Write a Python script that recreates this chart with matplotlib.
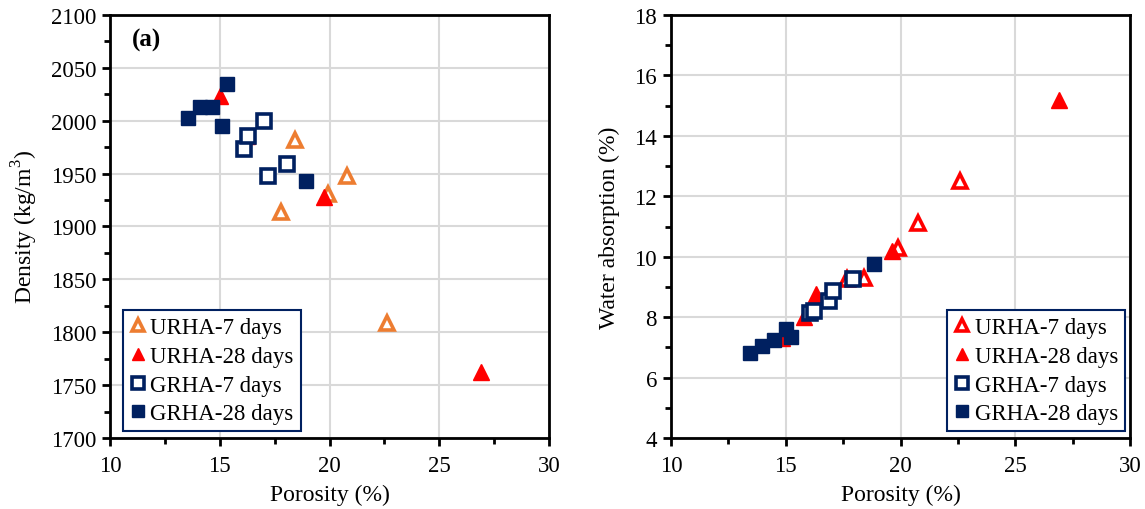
import matplotlib
matplotlib.use("Agg")
import matplotlib.pyplot as plt
from matplotlib.ticker import MultipleLocator

plt.rcParams['font.family'] = ['Liberation Serif', 'DejaVu Serif']
plt.rcParams['mathtext.fontset'] = 'custom'
plt.rcParams['mathtext.rm'] = 'Liberation Serif'

# ---- Data: panel (a) density vs porosity ----
urha7_por_a = [17.8, 18.45, 19.95, 20.8, 22.6]
urha7_den = [1914, 1982, 1931, 1948, 1809]
urha28_por_a = [15.0, 16.25, 19.75, 26.9]
urha28_den = [2023, 1986, 1928, 1762]
grha7_por_a = [16.1, 16.3, 17.0, 17.2, 18.05]
grha7_den = [1973, 1986, 2000, 1948, 1959]
grha28_por_a = [13.55, 14.1, 14.65, 15.1, 15.35, 18.95]
grha28_den = [2003, 2013, 2013, 1995, 2035, 1943]

# ---- Data: panel (b) water absorption vs porosity ----
urha7_por_b = [17.65, 18.4, 19.9, 20.75, 22.6]
urha7_wa = [9.25, 9.3, 10.3, 11.1, 12.5]
urha28_por_b = [14.85, 15.8, 16.3, 19.65, 26.9]
urha28_wa = [7.3, 8.0, 8.75, 10.2, 15.2]
grha7_por_b = [16.05, 16.25, 16.9, 17.05, 17.95]
grha7_wa = [8.15, 8.2, 8.55, 8.85, 9.25]
grha28_por_b = [13.45, 13.95, 14.5, 15.0, 15.25, 18.85]
grha28_wa = [6.8, 7.05, 7.25, 7.6, 7.35, 9.75]

labels = ["URHA-7 days", "URHA-28 days", "GRHA-7 days", "GRHA-28 days"]

ORANGE = "#ED7D31"
RED = "#FF0000"
NAVY = "#002060"

fig = plt.figure(figsize=(11.45, 5.10), dpi=100)
ax1 = fig.add_axes([110/1145, 71/510, 439/1145, 423/510])
ax2 = fig.add_axes([671/1145, 71/510, 459/1145, 423/510])

def style_axes(ax, ylim, ymaj, ymin_):
    ax.set_xlim(10, 30)
    ax.set_ylim(*ylim)
    ax.xaxis.set_major_locator(MultipleLocator(5))
    ax.xaxis.set_minor_locator(MultipleLocator(2.5))
    ax.yaxis.set_major_locator(MultipleLocator(ymaj))
    ax.yaxis.set_minor_locator(MultipleLocator(ymin_))
    ax.grid(True, which='major', color='#D9D9D9', lw=1.5, zorder=0)
    ax.set_axisbelow(True)
    for s in ax.spines.values():
        s.set_linewidth(2.0)
        s.set_color('black')
    ax.tick_params(which='major', direction='out', length=6, width=2.0, labelsize=16.5, pad=4)
    ax.tick_params(axis='x', which='major', pad=6)
    ax.tick_params(which='minor', direction='out', length=4, width=2.0)
    ax.set_xlabel("Porosity (%)", fontsize=17, labelpad=6)

ms_tri_o = 9.5
ms_tri_f = 11
ms_sq = 10.5

# Panel (a)
ax1.plot(urha7_por_a, urha7_den, ls='none', marker='^', ms=ms_tri_o, mfc='white', mec=ORANGE, mew=2.6, label=labels[0], zorder=3)
ax1.plot(urha28_por_a, urha28_den, ls='none', marker='^', ms=ms_tri_f, mfc=RED, mec=RED, mew=1, label=labels[1], zorder=3)
ax1.plot(grha7_por_a, grha7_den, ls='none', marker='s', ms=ms_sq, mfc='white', mec=NAVY, mew=2.6, label=labels[2], zorder=4)
ax1.plot(grha28_por_a, grha28_den, ls='none', marker='s', ms=ms_sq, mfc=NAVY, mec=NAVY, mew=1, label=labels[3], zorder=4)
style_axes(ax1, (1700, 2100), 50, 25)
ax1.set_ylabel("Density (kg/m$^3$)", fontsize=17, labelpad=8)
ax1.text(0.05, 0.97, "(a)", transform=ax1.transAxes, fontsize=18, fontweight='bold', va='top', ha='left')

# Panel (b)
ax2.plot(urha7_por_b, urha7_wa, ls='none', marker='^', ms=ms_tri_o, mfc='white', mec=RED, mew=2.6, label=labels[0], zorder=3)
ax2.plot(urha28_por_b, urha28_wa, ls='none', marker='^', ms=ms_tri_f, mfc=RED, mec=RED, mew=1, label=labels[1], zorder=3)
ax2.plot(grha7_por_b, grha7_wa, ls='none', marker='s', ms=ms_sq, mfc='white', mec=NAVY, mew=2.6, label=labels[2], zorder=4)
ax2.plot(grha28_por_b, grha28_wa, ls='none', marker='s', ms=ms_sq, mfc=NAVY, mec=NAVY, mew=1, label=labels[3], zorder=4)
style_axes(ax2, (4, 18), 2, 1)
ax2.set_ylabel("Water absorption (%)", fontsize=17, labelpad=10)

legkw = dict(fontsize=16.5, frameon=True, fancybox=False, handlelength=0.7, markerscale=0.85,
             handletextpad=0.2, labelspacing=0.33, borderpad=0.3, borderaxespad=0.0)
leg1 = ax1.legend(loc='lower left', bbox_to_anchor=(13/439, 7/423), **legkw)
leg2 = ax2.legend(loc='lower right', bbox_to_anchor=(1 - 5/459, 7/423), **legkw)
for lg in (leg1, leg2):
    fr = lg.get_frame()
    fr.set_edgecolor(NAVY)
    fr.set_linewidth(1.5)
    fr.set_alpha(1)

fig.savefig("out.png", dpi=100)
